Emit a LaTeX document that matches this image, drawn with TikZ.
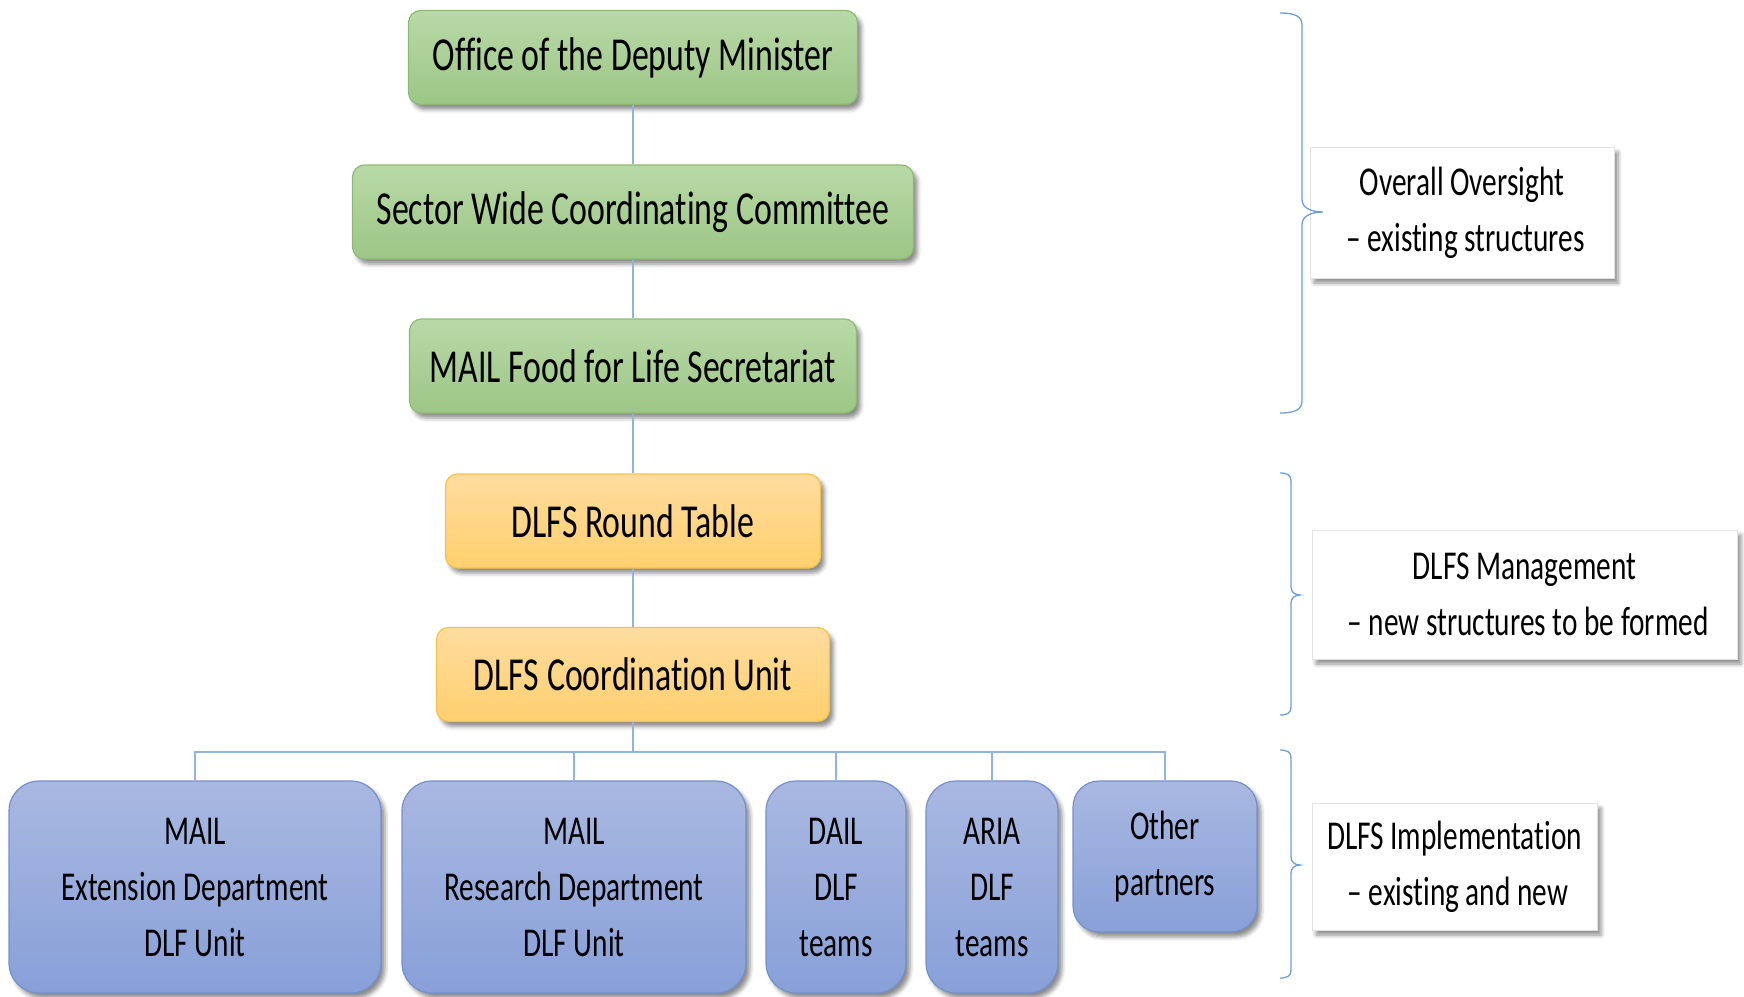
\documentclass[tikz,border=0pt]{standalone}
\usepackage{fontspec}
\setmainfont{Carlito}
\newfontfamily\boxfont[FakeStretch=0.715, Ligatures=CommonOff]{Carlito}
\usetikzlibrary{shadows.blur}

\definecolor{grnTop}{HTML}{B9D9A7}
\definecolor{grnBot}{HTML}{9CC686}
\definecolor{grnLine}{HTML}{8DBA72}
\definecolor{orgTop}{HTML}{FFDC9F}
\definecolor{orgBot}{HTML}{FFD06E}
\definecolor{orgLine}{HTML}{F5C244}
\definecolor{bluTop}{HTML}{A9B8E1}
\definecolor{bluBot}{HTML}{88A0D8}
\definecolor{bluLine}{HTML}{7390CC}
\definecolor{linkCol}{HTML}{8DB4E2}
\definecolor{braceCol}{HTML}{6C9FDA}
\definecolor{noteLine}{HTML}{E2E2E2}

% curly brace opening to the right:
% #1 spine x, #2 end x, #3 tip x, #4 top y, #5 middle y, #6 bottom y, #7 curl length
\newcommand\sidebrace[7]{%
  \draw[bracestyle]
    (#2,#4) .. controls ({#1-0.3*(#1-#2)},#4) and (#1,{#4+0.3*#7}) .. (#1,{#4+#7})
    -- (#1,{#5-#7}) .. controls (#1,{#5-0.4*#7}) and ({#1+0.4*(#3-#1)},#5) .. (#3,#5)
    .. controls ({#1+0.4*(#3-#1)},#5) and (#1,{#5+0.4*#7}) .. (#1,{#5+#7})
    -- (#1,{#6-#7}) .. controls (#1,{#6-0.3*#7}) and ({#1-0.3*(#1-#2)},#6) .. (#2,#6);%
}

\begin{document}
\begin{tikzpicture}[x=1pt,y=-1pt,
  box/.style={line width=1.2pt, inner sep=0pt, align=center,
    blur shadow={shadow xshift=4pt, shadow yshift=-5pt,
      shadow blur radius=4pt, shadow opacity=45}},
  bigtext/.style={font=\boxfont\fontsize{47.3}{56}\selectfont},
  smalltext/.style={font=\boxfont\fontsize{41}{56}\selectfont},
  greenbox/.style={box, bigtext, rounded corners=12pt, minimum height=94pt,
    top color=grnTop, bottom color=grnBot, draw=grnLine},
  orangebox/.style={box, bigtext, rounded corners=12pt, minimum height=94pt,
    top color=orgTop, bottom color=orgBot, draw=orgLine},
  bluebox/.style={box, smalltext, rounded corners=30pt,
    top color=bluTop, bottom color=bluBot, draw=bluLine},
  notebox/.style={box, smalltext, fill=white, draw=noteLine, line width=0.6pt},
  link/.style={draw=linkCol, line width=1.4pt},
  bracestyle/.style={draw=braceCol, line width=1.3pt}
]
\useasboundingbox (0,0) rectangle (1744,996);

% oversight and management chain
\node[greenbox, minimum width=449pt] (dm)    at (633,57.5)  {Office of the Deputy Minister};
\node[greenbox, minimum width=561pt] (swcc)  at (633,212)   {Sector Wide Coordinating Committee};
\node[greenbox, minimum width=447pt] (ffl)   at (633,366)   {MAIL Food for Life Secretariat};
\node[orangebox, minimum width=375pt] (rt)   at (633,521)   {DLFS Round Table};
\node[orangebox, minimum width=393pt] (cu)   at (633,674.5) {DLFS Coordination Unit};

% implementing bodies
\node[bluebox, minimum width=372pt, minimum height=212pt] (ext)  at (195,887)  {MAIL\\Extension Department\\DLF Unit};
\node[bluebox, minimum width=344pt, minimum height=212pt] (res)  at (574,887)  {MAIL\\Research Department\\DLF Unit};
\node[bluebox, minimum width=140pt, minimum height=212pt] (dail) at (836,887)  {DAIL\\DLF\\teams};
\node[bluebox, minimum width=132pt, minimum height=212pt] (aria) at (992,887)  {ARIA\\DLF\\teams};
\node[bluebox, minimum width=184pt, minimum height=151pt, rounded corners=26pt] (oth) at (1165,856.5) {Other\\partners};

% connectors
\draw[link] (dm) -- (swcc);
\draw[link] (swcc) -- (ffl);
\draw[link] (ffl) -- (rt);
\draw[link] (rt) -- (cu);
\foreach \child in {ext,res,dail,aria,oth}
  \draw[link] (cu.south) -- ++(0,30) -| (\child.north);

% side notes
\node[notebox, minimum width=304pt, minimum height=131pt] (n1) at (1462,212.5) {Overall Oversight\\\,– existing structures};
\node[notebox, minimum width=425pt, minimum height=129pt] (n2) at (1524.5,594.5) {DLFS Management\\\,– new structures to be formed};
\node[notebox, minimum width=285pt, minimum height=127pt] (n3) at (1454.5,866.5) {DLFS Implementation\\\,– existing and new};

% braces
\sidebrace{1302}{1280}{1323}{13}{212}{413}{12}
\sidebrace{1291}{1280}{1300}{473}{595}{715}{8}
\sidebrace{1291}{1280}{1300}{750}{865}{978}{8}
\end{tikzpicture}
\end{document}
